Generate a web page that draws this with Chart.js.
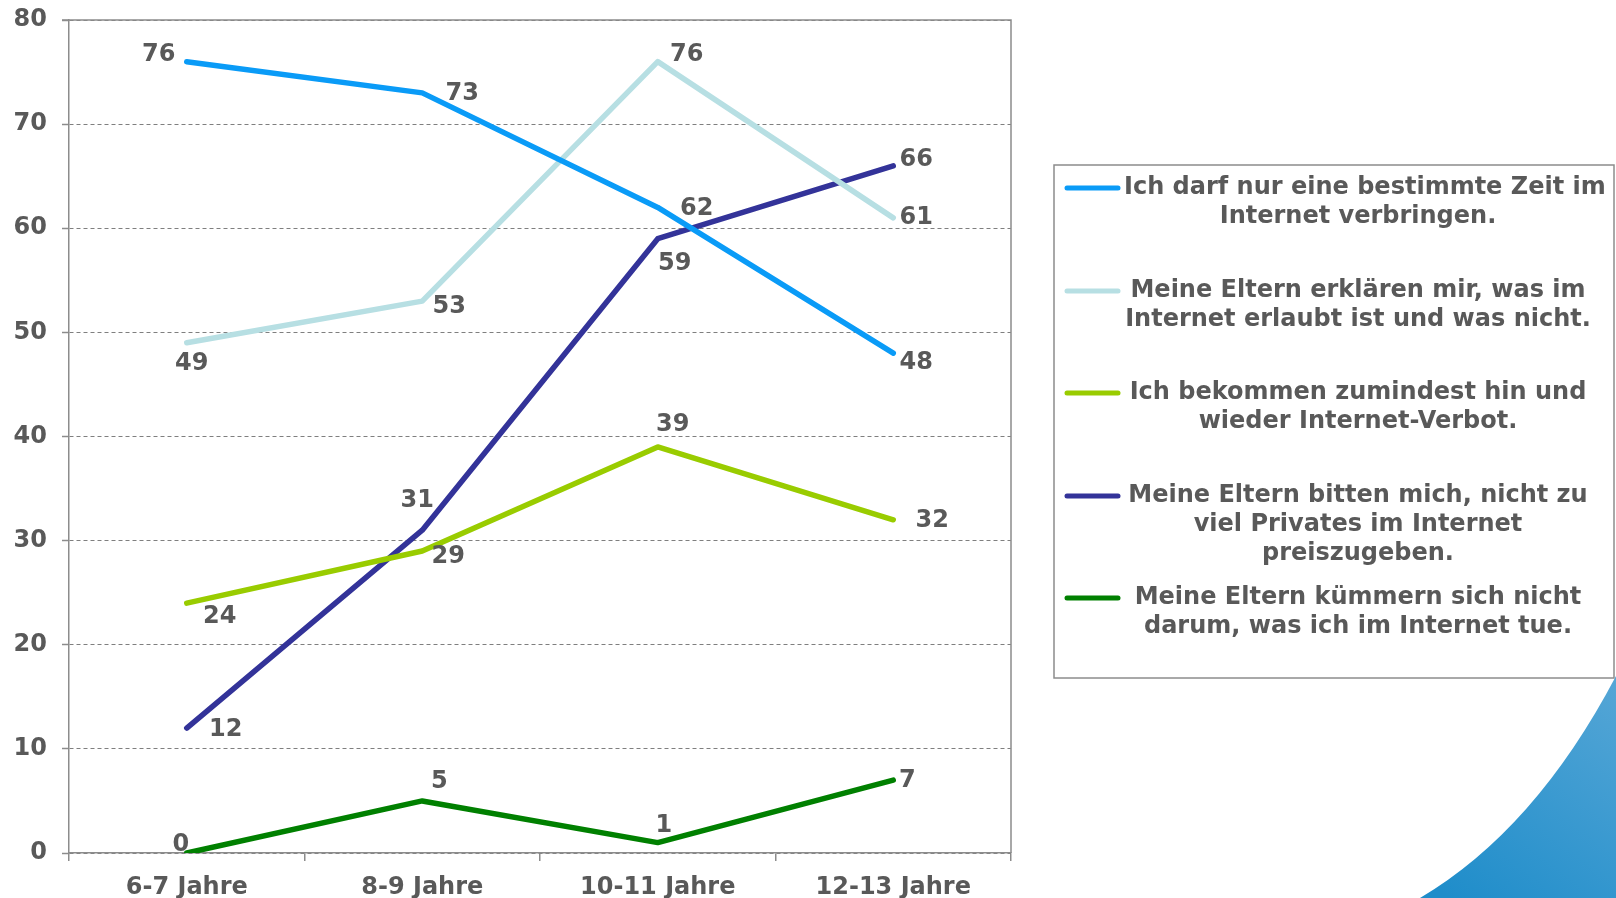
<!DOCTYPE html>
<html><head><meta charset="utf-8">
<script src="https://cdn.jsdelivr.net/npm/chart.js@4"></script>
<style>html,body{margin:0;padding:0;background:#fff}#wrap{width:1616px;height:898px;position:relative}</style>
</head><body><div id="wrap"><canvas id="c" width="1616" height="898"></canvas></div>
<script>
// ---- data ----
const categories = ['6-7 Jahre', '8-9 Jahre', '10-11 Jahre', '12-13 Jahre'];
const zeitBegrenzt = [76, 73, 62, 48];
const erklaeren = [49, 53, 76, 61];
const verbot = [24, 29, 39, 32];
const privates = [12, 31, 59, 66];
const kuemmernNicht = [0, 5, 1, 7];
const seriesNames = [
  'Ich darf nur eine bestimmte Zeit im Internet verbringen.',
  'Meine Eltern erklären mir, was im Internet erlaubt ist und was nicht.',
  'Ich bekommen zumindest hin und wieder Internet-Verbot.',
  'Meine Eltern bitten mich, nicht zu viel Privates im Internet preiszugeben.',
  'Meine Eltern kümmern sich nicht darum, was ich im Internet tue.'
];
const legendLines = [
  ['Ich darf nur eine bestimmte Zeit im', 'Internet verbringen.'],
  ['Meine Eltern erklären mir, was im', 'Internet erlaubt ist und was nicht.'],
  ['Ich bekommen zumindest hin und', 'wieder Internet-Verbot.'],
  ['Meine Eltern bitten mich, nicht zu', 'viel Privates im Internet', 'preiszugeben.'],
  ['Meine Eltern kümmern sich nicht', 'darum, was ich im Internet tue.']
];
const yMin = 0, yMax = 80, yStep = 10;

// ---- styles ----
const colors = ['#0A9BF7', '#B7DFE3', '#99CC00', '#333399', '#008000'];
const labelOffsets = [
  [[-28,-7],[40,1],[39,1],[23,10]],
  [[5,21],[27,6],[29,-7],[23,0]],
  [[33,14],[26,6],[15,-22],[39,1]],
  [[39,2],[-5,-29],[17,25],[23,-6]],
  [[-6,-8],[17,-19],[6,-17],[14,1]]
];
const TXT = '#595959';
const FONT = 'bold 24px "DejaVu Sans"';

Chart.defaults.font.family = '"DejaVu Sans"';
Chart.defaults.font.weight = 'bold';
Chart.defaults.font.size = 24;
Chart.defaults.color = TXT;

const seriesData = [zeitBegrenzt, erklaeren, verbot, privates, kuemmernNicht];

const bgPlugin = {
  id: 'bg',
  beforeDraw(chart) {
    const ctx = chart.ctx;
    ctx.save();
    ctx.fillStyle = '#fff';
    ctx.fillRect(0, 0, chart.width, chart.height);
    const g = ctx.createLinearGradient(1616, 676, 1450, 898);
    g.addColorStop(0, '#55A6D6');
    g.addColorStop(1, '#1F8DCA');
    ctx.fillStyle = g;
    ctx.beginPath();
    ctx.moveTo(1616, 676);
    ctx.quadraticCurveTo(1535, 830, 1420, 898);
    ctx.lineTo(1616, 898);
    ctx.closePath();
    ctx.fill();
    ctx.restore();
  }
};

const framePlugin = {
  id: 'frame',
  beforeDatasetsDraw(chart) {
    const {ctx, chartArea: a} = chart;
    ctx.save();
    ctx.strokeStyle = '#8C8C8C';
    ctx.lineWidth = 1.5;
    ctx.beginPath();
    ctx.moveTo(a.left - 7, a.top);
    ctx.lineTo(a.right, a.top);
    ctx.lineTo(a.right, a.bottom);
    ctx.stroke();
    ctx.restore();
  }
};

const labelPlugin = {
  id: 'vals',
  afterDatasetsDraw(chart) {
    const ctx = chart.ctx;
    ctx.save();
    ctx.font = FONT;
    ctx.fillStyle = TXT;
    ctx.textAlign = 'center';
    ctx.textBaseline = 'middle';
    chart.data.datasets.forEach((ds, di) => {
      const meta = chart.getDatasetMeta(di);
      meta.data.forEach((pt, i) => {
        const o = labelOffsets[di][i];
        ctx.fillText(String(ds.data[i]), pt.x + o[0], pt.y + o[1]);
      });
    });
    ctx.restore();
  }
};

const legendPlugin = {
  id: 'customLegend',
  afterDraw(chart) {
    const ctx = chart.ctx;
    ctx.save();
    ctx.fillStyle = '#fff';
    ctx.strokeStyle = '#8C8C8C';
    ctx.lineWidth = 1.5;
    ctx.fillRect(1054, 165, 560, 513);
    ctx.strokeRect(1054, 165, 560, 513);
    ctx.font = FONT;
    ctx.textAlign = 'center';
    ctx.textBaseline = 'middle';
    const firstY = [188, 291, 393, 496, 598];
    chart.data.datasets.forEach((ds, di) => {
      const y0 = firstY[di];
      ctx.strokeStyle = ds.borderColor;
      ctx.lineWidth = 5;
      ctx.lineCap = 'round';
      ctx.beginPath();
      ctx.moveTo(1067, y0);
      ctx.lineTo(1118, y0);
      ctx.stroke();
      ctx.fillStyle = TXT;
      legendLines[di].forEach((ln, li) => {
        const w = ctx.measureText(ln).width;
        const cx = Math.max(1358, 1124 + w / 2);
        ctx.fillText(ln, cx, y0 + li * 29);
      });
    });
    ctx.restore();
  }
};

new Chart(document.getElementById('c'), {
  type: 'line',
  data: {
    labels: categories,
    datasets: seriesData.map((d, i) => ({
      label: seriesNames[i],
      data: d,
      borderColor: colors[i],
      backgroundColor: colors[i],
      borderWidth: 5.5,
      pointRadius: 0,
      pointHoverRadius: 0,
      tension: 0,
      borderCapStyle: 'round',
      borderJoinStyle: 'round',
      fill: false
    }))
  },
  options: {
    responsive: false,
    animation: false,
    events: [],
    layout: { padding: { left: 0, right: 605, top: 20, bottom: 0 } },
    plugins: { legend: { display: false }, tooltip: { enabled: false } },
    scales: {
      x: {
        offset: true,
        grid: { display: true, drawOnChartArea: false, drawTicks: true, tickLength: 8, offset: true, color: '#8C8C8C', lineWidth: 1.5 },
        border: { display: true, color: '#8C8C8C', width: 1.5 },
        ticks: { padding: 12, color: TXT, font: { size: 24, weight: 'bold' }, maxRotation: 0 },
        afterFit(s) { s.height = 45; s.paddingLeft = 0; s.paddingRight = 0; }
      },
      y: {
        min: yMin, max: yMax,
        ticks: { stepSize: yStep, padding: 15, color: TXT, font: { size: 24, weight: 'bold' } },
        grid: { color: '#7F7F7F', lineWidth: 1, tickLength: 7, tickColor: '#8C8C8C', tickWidth: 1.5 },
        border: { display: true, color: '#8C8C8C', width: 1.5, dash: [4, 3] },
        afterFit(s) { s.width = 69; s.paddingTop = 0; s.paddingBottom = 0; }
      }
    }
  },
  plugins: [bgPlugin, framePlugin, labelPlugin, legendPlugin]
});
</script></body></html>
